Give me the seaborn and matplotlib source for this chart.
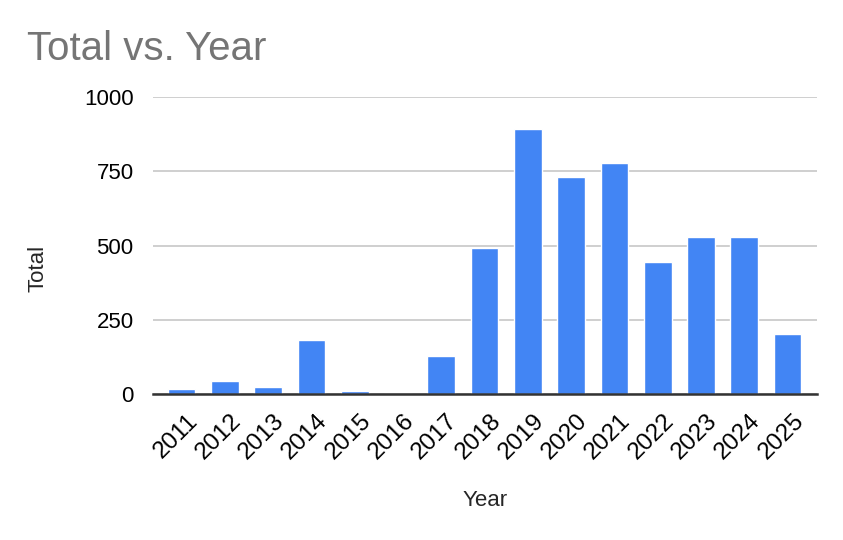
import matplotlib
matplotlib.use("Agg")
import matplotlib.pyplot as plt
import matplotlib.transforms as mtransforms
import seaborn as sns
import pandas as pd

years = ['2011', '2012', '2013', '2014', '2015', '2016', '2017', '2018',
         '2019', '2020', '2021', '2022', '2023', '2024', '2025']
totals = [17, 44, 24, 182, 10, 0, 128, 493, 892, 730, 777, 446, 527, 527, 203]
y_ticks = [0, 250, 500, 750, 1000]

sns.set_style('white')
plt.rcParams['font.family'] = ['Liberation Sans', 'DejaVu Sans']

df = pd.DataFrame({'Year': years, 'Total': totals})

fig = plt.figure(figsize=(8.43, 5.4), dpi=100)
ax = fig.add_axes([153 / 843, 1 - 394 / 540, (817 - 153) / 843, (394 - 97) / 540])

sns.barplot(data=df, x='Year', y='Total', color='#4285F4', saturation=1,
            width=0.64, ax=ax, zorder=3)

ax.set_xlim(-0.66, 14.68)
ax.set_ylim(0, 1000)
ax.set_yticks(y_ticks)
ax.grid(axis='y', color='#cccccc', linewidth=1.3, zorder=0)
ax.grid(axis='x', visible=False)
for side in ['top', 'right', 'left']:
    ax.spines[side].set_visible(False)
ax.spines['bottom'].set_color('#333333')
ax.spines['bottom'].set_linewidth(1.8)
ax.spines['bottom'].set_zorder(4)
ax.tick_params(axis='y', length=0, labelsize=16, colors='black', pad=14)
ax.tick_params(axis='x', length=0, labelsize=17.5, colors='black')

# shift the rotated year labels so their top-right end sits under the bar
offset = mtransforms.ScaledTranslation(5 / 100, -11 / 100, fig.dpi_scale_trans)
for lbl in ax.get_xticklabels():
    lbl.set_rotation(45)
    lbl.set_ha('right')
    lbl.set_rotation_mode('anchor')
    lbl.set_transform(lbl.get_transform() + offset)

ax.set_xlabel('Year', fontsize=16, labelpad=0)
ax.set_ylabel('Total', fontsize=16)
ax.xaxis.set_label_coords((485 - 153) / (817 - 153), -(490 - 394) / 297)
ax.yaxis.set_label_coords(-(153 - 49) / (817 - 153), (394 - 268) / 297)

fig.text(27 / 843, 1 - 60 / 540, 'Total vs. Year', fontsize=29, color='#757575',
         ha='left', va='baseline')

fig.savefig('out.png', dpi=100)
